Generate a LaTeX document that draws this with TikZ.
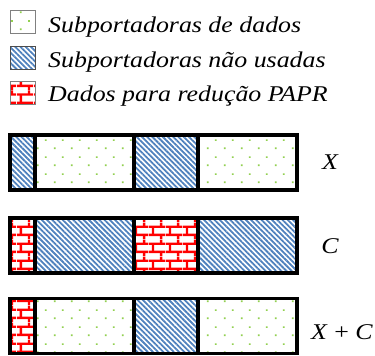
\documentclass[tikz,border=0pt]{standalone}
\usepackage{fontspec}
\setmainfont{Liberation Serif}
\usetikzlibrary{patterns.meta}
\definecolor{dotgreen}{RGB}{146,208,80}
\definecolor{stripeblue}{RGB}{79,129,189}
\newcommand{\widetext}[1]{\scalebox{1.15}[1]{#1}}
\tikzdeclarepattern{
  name=greendots,
  type=uncolored,
  bounding box={(0pt,0pt) and (17pt,17pt)},
  tile size={(17pt,17pt)},
  code={
    \fill (3pt,3pt) rectangle (4.8pt,4.8pt);
    \fill (11.5pt,11.5pt) rectangle (13.3pt,13.3pt);
  }
}
\tikzdeclarepattern{
  name=redbricks,
  type=uncolored,
  bounding box={(0pt,0pt) and (16.5pt,16.6pt)},
  tile size={(16.5pt,16.6pt)},
  code={
    \draw[line width=2.4pt] (0pt,4.15pt) -- (16.5pt,4.15pt) (0pt,12.45pt) -- (16.5pt,12.45pt);
    \draw[line width=2.4pt] (4pt,4.15pt) -- (4pt,12.45pt);
    \draw[line width=2.4pt] (12.25pt,12.45pt) -- (12.25pt,16.6pt) (12.25pt,0pt) -- (12.25pt,4.15pt);
  }
}
\tikzset{
  cell/.style={draw, line width=3.2pt, minimum height=55pt, inner sep=0pt, outer sep=0pt},
  keycell/.style={draw=gray, line width=1pt, minimum width=25pt, minimum height=23pt, inner sep=0pt},
  datafill/.style={pattern=greendots, pattern color=dotgreen},
  nullfill/.style={pattern={Lines[angle=-45, distance=3.7pt, line width=1.8pt]}, pattern color=stripeblue},
  paprfill/.style={pattern=redbricks, pattern color=red},
  keytext/.style={anchor=base west, inner sep=0pt, font=\fontsize{22.5}{27}\selectfont\itshape},
  barlabel/.style={font=\fontsize{22.5}{27}\selectfont}
}
\begin{document}
\begin{tikzpicture}[x=1pt, y=-1pt]
  \useasboundingbox (0,0) rectangle (375,356);
  % legenda
  \node[keycell, datafill] (kdata) at (23,21.5) {};
  \node[keycell, nullfill, draw=black!70] (knull) at (23,57.5) {};
  \node[keycell, paprfill] (kpapr) at (23,92.5) {};
  \node[keytext] (tdata) at (48,32) {\widetext{Subportadoras de dados}};
  \node[keytext] (tnull) at (48,67) {\widetext{Subportadoras não usadas}};
  \node[keytext] (tpapr) at (48,101) {\widetext{Dados para redução PAPR}};

  % X
  \node[cell, nullfill, minimum width=25pt] (x1) at (22.5,162.5) {};
  \node[cell, datafill, minimum width=99pt] (x2) at (84.5,162.5) {};
  \node[cell, nullfill, minimum width=64pt] (x3) at (166,162.5) {};
  \node[cell, datafill, minimum width=99pt] (x4) at (247.5,162.5) {};
  \node[barlabel] (lx) at (330,162) {\widetext{\itshape X}};

  % C
  \node[cell, paprfill, minimum width=25pt] (c1) at (22.5,245.5) {};
  \node[cell, nullfill, minimum width=99pt] (c2) at (84.5,245.5) {};
  \node[cell, paprfill, minimum width=64pt] (c3) at (166,245.5) {};
  \node[cell, nullfill, minimum width=99pt] (c4) at (247.5,245.5) {};
  \node[barlabel] (lc) at (330,246) {\widetext{\itshape C}};

  % X + C
  \node[cell, paprfill, minimum width=25pt] (s1) at (22.5,326) {};
  \node[cell, datafill, minimum width=99pt] (s2) at (84.5,326) {};
  \node[cell, nullfill, minimum width=64pt] (s3) at (166,326) {};
  \node[cell, datafill, minimum width=99pt] (s4) at (247.5,326) {};
  \node[barlabel] (ls) at (342,332) {\widetext{\textit{X} + \textit{C}}};
\end{tikzpicture}
\end{document}
